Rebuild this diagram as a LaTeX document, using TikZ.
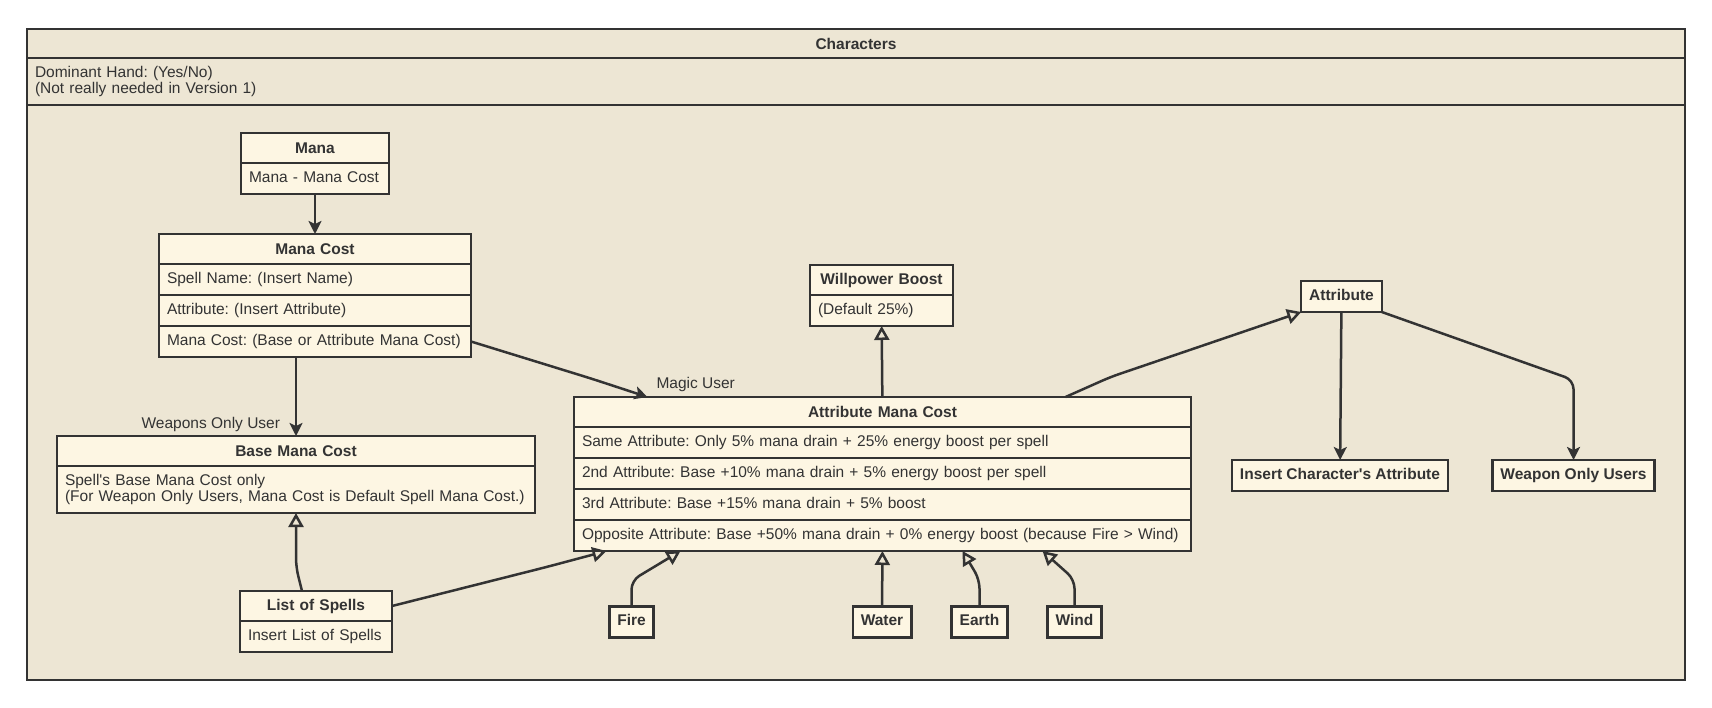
\documentclass[tikz,border=0pt]{standalone}
\usepackage{fontspec}
\setmainfont{Liberation Sans}[Ligatures=TeXOff]
\usetikzlibrary{positioning,arrows.meta}
\definecolor{ink}{HTML}{333333}
\definecolor{pkgbg}{HTML}{EDE6D4}
\definecolor{clsbg}{HTML}{FDF6E3}
\frenchspacing

\begin{document}
\begin{tikzpicture}[x=1pt, y=-1pt, line width=2.5pt, color=ink,
  font=\fontsize{15.5}{15.5}\selectfont,
  every node/.style={outer sep=0pt, inner xsep=8pt, inner ysep=0pt},
  pkg/.style={draw=ink, fill=pkgbg, minimum width=1658pt, anchor=north},
  head/.style={draw=ink, fill=clsbg, minimum height=30pt, align=center,
    font=\fontsize{15.5}{15.5}\selectfont\bfseries},
  row/.style={draw=ink, fill=clsbg, minimum height=31pt, align=left,
    text height=11pt, text depth=4pt},
  note/.style={draw=ink, fill=clsbg, align=left},
  tag/.style={draw=ink, fill=clsbg, minimum height=31pt, text height=11pt,
    text depth=4pt, font=\fontsize{15.5}{15.5}\selectfont\bfseries},
  lbl/.style={inner sep=0pt},
  link/.style={draw=ink, rounded corners=9pt},
  uses/.style={link, -{Stealth[length=13pt, width=13pt, inset=3pt]}},
  isa/.style={link, -{Triangle[open, length=14pt, width=15pt]}}]
  \useasboundingbox (0,0) rectangle (1712,707);

  % Characters package
  \node[pkg, minimum height=29pt, font=\fontsize{15.5}{15.5}\selectfont\bfseries] (chars) at (856,29) {Characters};
  \node[pkg, below=0pt of chars, minimum height=47pt, text width=1642pt, align=left] (charsinfo) {Dominant Hand: (Yes/No)\\(Not really needed in Version 1)};
  \node[pkg, below=0pt of charsinfo, minimum height=575pt] (charsbody) {};

  % Classes
  \node[head, text width=132pt] (mana) at (315,148) {Mana};
  \node[row, below=0pt of mana, text width=132pt] (mana-1) {Mana - Mana Cost};

  \node[head, text width=296pt] (manacost) at (315,249) {Mana Cost};
  \node[row, below=0pt of manacost, text width=296pt] (manacost-1) {Spell Name: (Insert Name)};
  \node[row, below=0pt of manacost-1, text width=296pt] (manacost-2) {Attribute: (Insert Attribute)};
  \node[row, below=0pt of manacost-2, text width=296pt] (manacost-3) {Mana Cost: (Base or Attribute Mana Cost)};

  \node[head, text width=462pt] (basecost) at (296,451) {Base Mana Cost};
  \node[note, below=0pt of basecost, text width=462pt, minimum height=47pt] (basecost-1) {Spell's Base Mana Cost only\\(For Weapon Only Users, Mana Cost is Default Spell Mana Cost.)};

  \node[head, text width=136pt] (spells) at (316,606) {List of Spells};
  \node[row, below=0pt of spells, text width=136pt] (spells-1) {Insert List of Spells};

  \node[head, text width=127pt] (willpower) at (881.5,280) {Willpower Boost};
  \node[row, below=0pt of willpower, text width=127pt] (willpower-1) {(Default 25\%)};

  \node[head, text width=601pt] (attrcost) at (882.5,412) {Attribute Mana Cost};
  \node[row, below=0pt of attrcost, text width=601pt] (attrcost-1) {Same Attribute: Only 5\% mana drain + 25\% energy boost per spell};
  \node[row, below=0pt of attrcost-1, text width=601pt] (attrcost-2) {2nd Attribute: Base +10\% mana drain + 5\% energy boost per spell};
  \node[row, below=0pt of attrcost-2, text width=601pt] (attrcost-3) {3rd Attribute: Base +15\% mana drain + 5\% boost};
  \node[row, below=0pt of attrcost-3, text width=601pt] (attrcost-4) {Opposite Attribute: Base +50\% mana drain + 0\% energy boost (because Fire > Wind)};

  \node[tag] (attribute) at (1341.5,296.5) {Attribute};
  \node[tag] (insertattr) at (1340,475.5) {Insert Character's Attribute};
  \node[tag] (weaponusers) at (1573.5,475.5) {Weapon Only Users};

  \node[tag] (fire) at (631.5,622) {Fire};
  \node[tag] (water) at (882,622) {Water};
  \node[tag] (earth) at (979.5,622) {Earth};
  \node[tag] (wind) at (1074.5,622) {Wind};

  % Associations
  \draw[uses] (mana-1) -- (manacost);
  \draw[uses] (manacost-3.south -| basecost.north) -- (basecost)
    node[lbl, at end, anchor=base east, xshift=-16pt, yshift=8pt] {Weapons Only User};
  \draw[uses] (manacost-3.east) -- ++(120,37) -- ([xshift=-235pt]attrcost.north)
    node[lbl, at end, anchor=base west, xshift=9pt, yshift=9pt] {Magic User};
  \draw[uses] (attribute) -- (insertattr);
  \draw[uses] (attribute.south east) -- ([yshift=80pt]weaponusers.north) -- (weaponusers);

  % Generalisations
  \draw[isa] ([xshift=-14pt]spells.north) -- ([yshift=-54pt]basecost-1.south) -- (basecost-1.south);
  \draw[isa] (spells.east) -- ([xshift=-336pt, yshift=-16pt]attrcost-4.south) -- ([xshift=-276pt]attrcost-4.south);
  \draw[isa] (fire.north) -- ++(0,-26) -- ([xshift=-202pt]attrcost-4.south);
  \draw[isa] (water) -- (attrcost-4);
  \draw[isa] (earth.north) -- ++(0,-27) -- ([xshift=80pt]attrcost-4.south);
  \draw[isa] (wind.north) -- ++(0,-27) -- ([xshift=160pt]attrcost-4.south);
  \draw[isa] (attrcost) -- (willpower-1);
  \draw[isa] ([xshift=183pt]attrcost.north) -- ++(45,-20) -- (attribute.south west);
\end{tikzpicture}
\end{document}
